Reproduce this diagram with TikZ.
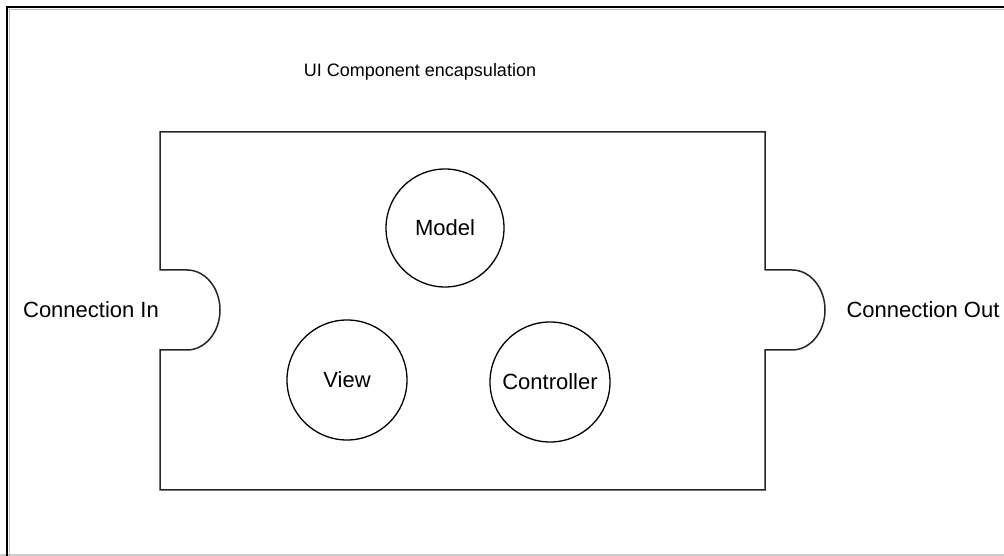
\documentclass[tikz,border=0pt]{standalone}
\usepackage{fontspec}
\setmainfont{Liberation Sans}
\usetikzlibrary{
  positioning,
  shapes
}

\begin{document}
\begin{tikzpicture}[
    x=1pt, y=1pt,
    part/.style = {shape=circle, draw, line width=1.3pt,
      minimum size=118pt, inner sep=0pt},
    label text/.style = {font=\fontsize{22}{26}\selectfont},
    every node/.style = {label text}]
    \useasboundingbox (0,0) rectangle (1004,556);
    % frame
    \draw [gray!40, line width=1.5pt] (0,0.75) -- (1004,0.75);
    \draw [gray!50, line width=1pt] (9.5,0) -- (9.5,546.5) -- (1004,546.5);
    \draw [line width=2.5pt] (7,0) -- (7,549) -- (1004,549);
    \node [font=\fontsize{18}{22}\selectfont] (title) at (420,484)
      {UI Component encapsulation};
    % component with its two connectors
    \draw [black!85, line width=1.5pt]
      (160,424) -- (765,424) -- (765,286) -- (792,286)
      arc [start angle=90, end angle=-90, x radius=33pt, y radius=40pt]
      -- (765,206) -- (765,66) -- (160,66) -- (160,206) -- (187,206)
      arc [start angle=-90, end angle=90, x radius=33pt, y radius=40pt]
      -- (160,286) -- cycle;
    \node (in)  at (91,246)  {Connection In};
    \node (out) at (923,246) {Connection Out};
    \node [part] (model) at (445,328) {Model};
    \node [part, minimum size=120pt] (view) at (347,176) {View};
    \node [part, minimum size=120pt] (ctrl) at (550,174) {Controller};
\end{tikzpicture}
\end{document}
